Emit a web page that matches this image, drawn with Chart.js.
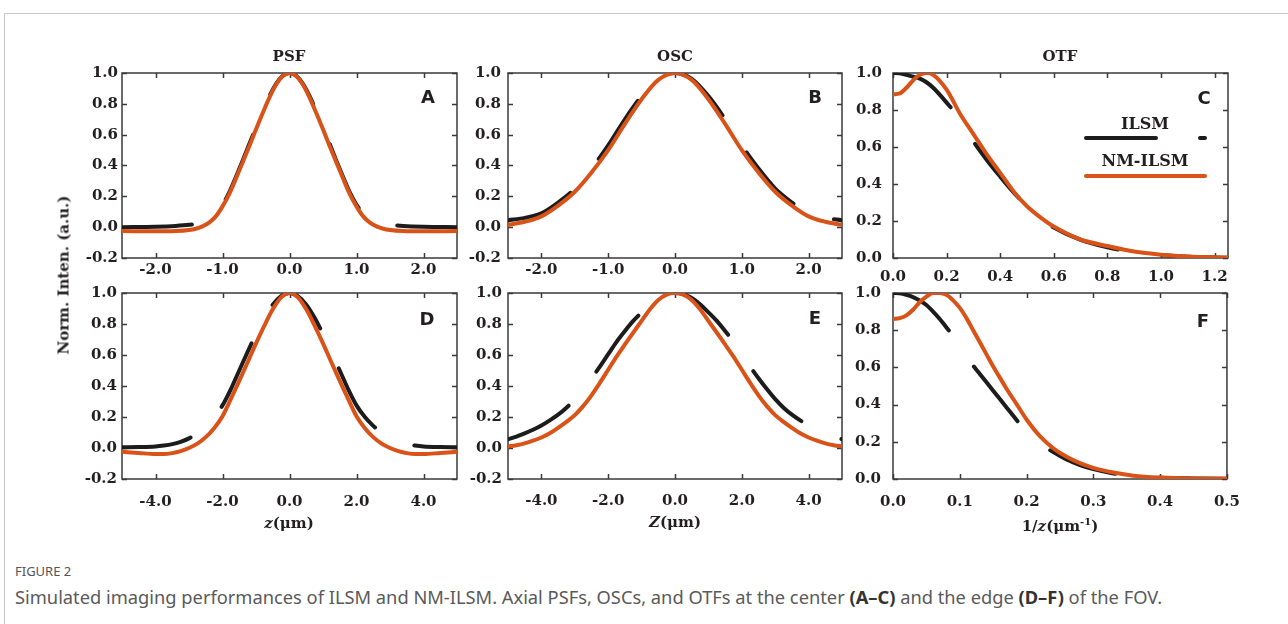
<!DOCTYPE html>
<html>
<head>
<meta charset="utf-8">
<script src="https://cdn.jsdelivr.net/npm/chart.js@4.4.1/dist/chart.umd.min.js"></script>
<style>
  body { margin: 0; background: #fff; width: 1288px; height: 624px; position: relative; overflow: hidden; }
  .card { position: absolute; left: 4px; top: 13px; width: 1300px; height: 640px; border-top: 1px solid #c8c8c8; border-left: 1px solid #c8c8c8; }
  .txt { position: absolute; transform: translate(-50%, -50%); white-space: nowrap; color: #231f20; line-height: 1; }
  .serif { font-family: "DejaVu Serif", serif; font-weight: bold; font-size: 15px; }
  .letter { font-family: "DejaVu Sans", sans-serif; font-weight: bold; font-size: 18px; }
  .legend { font-family: "DejaVu Serif", serif; font-weight: bold; font-size: 16px; }
  .cap-head { position: absolute; left: 15px; top: 565px; font-family: "Noto Sans", sans-serif; font-size: 13px; line-height: 1; color: #555; }
  .cap-text { position: absolute; left: 15px; top: 588px; font-family: "Noto Sans", sans-serif; font-size: 18.3px; line-height: 1; color: #5a5a5a; white-space: nowrap; }
  .cap-text b { color: #333; }
  canvas { position: absolute; }
</style>
</head>
<body>
<div class="card"></div>

<script>
'use strict';

// ---- data ----

// PSF, centre of FOV (A)
const psfCenterZ = [-2.5, -2.0, -1.7, -1.5, -1.4, -1.3, -1.2, -1.1, -1.0, -0.9, -0.8, -0.7, -0.6, -0.5, -0.4, -0.3, -0.2, -0.1, 0,
  0.1, 0.2, 0.3, 0.4, 0.5, 0.6, 0.7, 0.8, 0.9, 1.0, 1.1, 1.2, 1.3, 1.4, 1.5, 1.7, 2.0, 2.5];
const psfCenterIlsm = [0.0, 0.003, 0.008, 0.015, 0.022, 0.035, 0.06, 0.09, 0.145, 0.225, 0.325, 0.43, 0.54, 0.645, 0.75, 0.85, 0.93, 0.982, 1.0,
  0.982, 0.93, 0.85, 0.75, 0.645, 0.54, 0.43, 0.325, 0.225, 0.145, 0.09, 0.06, 0.035, 0.022, 0.015, 0.008, 0.003, 0.0];
const psfCenterNm = [-0.025, -0.027, -0.025, -0.018, -0.01, 0.005, 0.03, 0.07, 0.135, 0.215, 0.315, 0.42, 0.525, 0.635, 0.74, 0.84, 0.925, 0.98, 1.0,
  0.98, 0.925, 0.84, 0.74, 0.635, 0.525, 0.42, 0.315, 0.215, 0.135, 0.07, 0.03, 0.005, -0.01, -0.018, -0.025, -0.027, -0.025];

// OSC, centre (B)
const oscCenterZ = [-2.5, -2.25, -2.0, -1.75, -1.5, -1.25, -1.0, -0.75, -0.5, -0.25, 0,
  0.25, 0.5, 0.75, 1.0, 1.25, 1.5, 1.75, 2.0, 2.25, 2.5];
const oscCenterIlsm = [0.045, 0.06, 0.09, 0.16, 0.25, 0.38, 0.53, 0.70, 0.85, 0.962, 1.0,
  0.962, 0.85, 0.70, 0.53, 0.38, 0.25, 0.16, 0.09, 0.06, 0.045];
const oscCenterNm = [0.015, 0.035, 0.07, 0.14, 0.23, 0.355, 0.50, 0.67, 0.83, 0.955, 1.0,
  0.955, 0.83, 0.67, 0.50, 0.355, 0.23, 0.14, 0.07, 0.035, 0.015];

// OTF, centre (C)
const otfCenterF = [0, 0.025, 0.05, 0.075, 0.1, 0.125, 0.15, 0.2, 0.25, 0.3, 0.35, 0.4, 0.45, 0.5, 0.55, 0.6, 0.7, 0.8, 0.9, 1.0, 1.1, 1.25];
const otfCenterIlsm = [1.0, 0.998, 0.99, 0.98, 0.97, 0.95, 0.92, 0.84, 0.75, 0.63, 0.53, 0.44, 0.355, 0.28, 0.215, 0.165, 0.098, 0.058, 0.032, 0.016, 0.007, 0.002];
const otfCenterNm = [0.885, 0.89, 0.92, 0.96, 0.99, 1.0, 0.99, 0.91, 0.78, 0.67, 0.56, 0.46, 0.36, 0.28, 0.22, 0.17, 0.10, 0.065, 0.035, 0.018, 0.008, 0.003];

// PSF, edge of FOV (D)
const psfEdgeZ = [-5, -4.5, -4, -3.75, -3.5, -3.25, -3, -2.75, -2.5, -2.25, -2, -1.75, -1.5, -1.25, -1, -0.75, -0.5, -0.25, 0,
  0.25, 0.5, 0.75, 1, 1.25, 1.5, 1.75, 2, 2.25, 2.5, 2.75, 3, 3.25, 3.5, 3.75, 4, 4.5, 5];
const psfEdgeIlsm = [0.005, 0.006, 0.01, 0.016, 0.025, 0.04, 0.062, 0.097, 0.143, 0.20, 0.275, 0.38, 0.50, 0.62, 0.735, 0.84, 0.925, 0.98, 1.0,
  0.98, 0.925, 0.84, 0.735, 0.62, 0.50, 0.38, 0.275, 0.20, 0.143, 0.097, 0.062, 0.04, 0.025, 0.016, 0.01, 0.006, 0.005];
const psfEdgeNm = [-0.024, -0.032, -0.039, -0.039, -0.033, -0.02, 0.0, 0.028, 0.07, 0.128, 0.205, 0.317, 0.433, 0.553, 0.675, 0.79, 0.895, 0.972, 1.0,
  0.972, 0.895, 0.79, 0.675, 0.553, 0.433, 0.317, 0.205, 0.128, 0.07, 0.028, 0.0, -0.02, -0.033, -0.039, -0.039, -0.032, -0.024];

// OSC, edge (E)
const oscEdgeZ = [-5, -4.75, -4.5, -4.25, -4, -3.75, -3.5, -3.25, -3, -2.75, -2.5, -2.25, -2, -1.75, -1.5, -1.25, -1, -0.75, -0.5, -0.25, 0,
  0.25, 0.5, 0.75, 1, 1.25, 1.5, 1.75, 2, 2.25, 2.5, 2.75, 3, 3.25, 3.5, 3.75, 4, 4.25, 4.5, 4.75, 5];
const oscEdgeIlsm = [0.056, 0.074, 0.095, 0.118, 0.145, 0.178, 0.215, 0.26, 0.315, 0.38, 0.45, 0.525, 0.605, 0.685, 0.755, 0.82, 0.875, 0.928, 0.968, 0.992, 1.0,
  0.992, 0.968, 0.928, 0.875, 0.82, 0.755, 0.685, 0.605, 0.525, 0.45, 0.38, 0.315, 0.26, 0.215, 0.178, 0.145, 0.118, 0.095, 0.074, 0.056];
const oscEdgeNm = [0.01, 0.018, 0.03, 0.047, 0.068, 0.095, 0.13, 0.168, 0.212, 0.27, 0.34, 0.42, 0.505, 0.59, 0.668, 0.745, 0.82, 0.895, 0.955, 0.99, 1.0,
  0.99, 0.955, 0.895, 0.82, 0.745, 0.668, 0.59, 0.505, 0.42, 0.34, 0.27, 0.212, 0.168, 0.13, 0.095, 0.068, 0.047, 0.03, 0.018, 0.01];

// OTF, edge (F)
const otfEdgeF = [0, 0.01, 0.02, 0.03, 0.04, 0.05, 0.06, 0.07, 0.08, 0.09, 0.1, 0.11, 0.12, 0.13, 0.14, 0.15, 0.16, 0.17, 0.18, 0.19, 0.2,
  0.22, 0.24, 0.26, 0.28, 0.3, 0.33, 0.36, 0.4, 0.45, 0.5];
const otfEdgeIlsm = [1.0, 0.998, 0.99, 0.978, 0.96, 0.935, 0.9, 0.86, 0.815, 0.77, 0.72, 0.665, 0.61, 0.565, 0.52, 0.475, 0.43, 0.385, 0.34, 0.295, 0.255,
  0.19, 0.145, 0.105, 0.075, 0.053, 0.03, 0.016, 0.007, 0.003, 0.001];
const otfEdgeNm = [0.86, 0.865, 0.88, 0.91, 0.95, 0.98, 1.0, 1.0, 0.99, 0.96, 0.92, 0.865, 0.80, 0.735, 0.67, 0.605, 0.545, 0.485, 0.43, 0.375, 0.32,
  0.23, 0.165, 0.12, 0.085, 0.06, 0.035, 0.018, 0.008, 0.003, 0.002];

// tick labels
const yTicksSigned = [-0.2, 0.0, 0.2, 0.4, 0.6, 0.8, 1.0];
const yTicksPositive = [0.0, 0.2, 0.4, 0.6, 0.8, 1.0];
const zTicksCenter = [-2.0, -1.0, 0.0, 1.0, 2.0];
const zTicksEdge = [-4.0, -2.0, 0.0, 2.0, 4.0];
const fTicksCenter = [0.0, 0.2, 0.4, 0.6, 0.8, 1.0, 1.2];
const fTicksEdge = [0.0, 0.1, 0.2, 0.3, 0.4, 0.5];

const seriesNames = ['ILSM', 'NM-ILSM'];
const panelTitles = ['PSF', 'OSC', 'OTF'];

// ---- styling ----
const ilsmColor = '#1c1c1c';
const nmColor = '#d95319';
const tickFont = { family: 'DejaVu Serif', size: 15, weight: 'bold' };

function toPoints(xs, ys) {
  return xs.map((x, i) => ({ x: x, y: ys[i] }));
}

// box frame with inward ticks on all four sides
const boxFrame = {
  id: 'boxFrame',
  beforeDatasetsDraw(chart) {
    const { ctx, chartArea: a } = chart;
    const xs = chart.scales.x;
    const ys = chart.scales.y;
    ctx.save();
    ctx.strokeStyle = '#3a3a3a';
    ctx.lineWidth = 1.5;
    ctx.strokeRect(a.left, a.top, a.right - a.left, a.bottom - a.top);
    ctx.beginPath();
    xs.ticks.forEach(t => {
      const px = Math.round(xs.getPixelForValue(t.value)) + 0.5;
      ctx.moveTo(px, a.bottom); ctx.lineTo(px, a.bottom - 5);
      ctx.moveTo(px, a.top); ctx.lineTo(px, a.top + 5);
    });
    ys.ticks.forEach(t => {
      const py = Math.round(ys.getPixelForValue(t.value)) + 0.5;
      ctx.moveTo(a.left, py); ctx.lineTo(a.left + 5, py);
      ctx.moveTo(a.right, py); ctx.lineTo(a.right - 5, py);
    });
    ctx.stroke();
    ctx.restore();
  }
};

// legend line samples in panel C
const legendLines = {
  id: 'legendLines',
  afterDatasetsDraw(chart, args, opts) {
    if (!opts.show) return;
    const { ctx, chartArea: a } = chart;
    ctx.save();
    ctx.lineWidth = 4;
    ctx.lineCap = 'round';
    ctx.strokeStyle = ilsmColor;
    ctx.setLineDash([70, 44]);
    ctx.beginPath();
    ctx.moveTo(a.left + 193, a.top + 65);
    ctx.lineTo(a.left + 312, a.top + 65);
    ctx.stroke();
    ctx.setLineDash([]);
    ctx.strokeStyle = nmColor;
    ctx.beginPath();
    ctx.moveTo(a.left + 193, a.top + 103);
    ctx.lineTo(a.left + 312, a.top + 103);
    ctx.stroke();
    ctx.restore();
  }
};

const panels = [
  { left: 122, top: 73, w: 335, h: 185, xs: psfCenterZ, ilsm: psfCenterIlsm, nm: psfCenterNm,
    xMin: -2.5, xMax: 2.5, xTicks: zTicksCenter, yMin: -0.2, yTicks: yTicksSigned, xPad: 3, yPad: 4 },
  { left: 508, top: 73, w: 334, h: 185, xs: oscCenterZ, ilsm: oscCenterIlsm, nm: oscCenterNm,
    xMin: -2.5, xMax: 2.5, xTicks: zTicksCenter, yMin: -0.2, yTicks: yTicksSigned, xPad: 3, yPad: 7 },
  { left: 893, top: 73, w: 335, h: 185, xs: otfCenterF, ilsm: otfCenterIlsm, nm: otfCenterNm,
    xMin: 0, xMax: 1.25, xTicks: fTicksCenter, yMin: 0, yTicks: yTicksPositive, xPad: 10, yPad: 11, legend: true },
  { left: 122, top: 293, w: 335, h: 186, xs: psfEdgeZ, ilsm: psfEdgeIlsm, nm: psfEdgeNm,
    xMin: -5, xMax: 5, xTicks: zTicksEdge, yMin: -0.2, yTicks: yTicksSigned, xPad: 14, yPad: 5 },
  { left: 508, top: 293, w: 334, h: 186, xs: oscEdgeZ, ilsm: oscEdgeIlsm, nm: oscEdgeNm,
    xMin: -5, xMax: 5, xTicks: zTicksEdge, yMin: -0.2, yTicks: yTicksSigned, xPad: 13, yPad: 6 },
  { left: 893, top: 293, w: 335, h: 186, xs: otfEdgeF, ilsm: otfEdgeIlsm, nm: otfEdgeNm,
    xMin: 0, xMax: 0.5, xTicks: fTicksEdge, yMin: 0, yTicks: yTicksPositive, xPad: 14, yPad: 12 }
];

const AXIS_W = 60;
const AXIS_H = 40;
const PAD_TOP = 30;
const PAD_RIGHT = 26;

panels.forEach(p => {
  const canvas = document.createElement('canvas');
  canvas.width = p.w + AXIS_W + PAD_RIGHT;
  canvas.height = p.h + AXIS_H + PAD_TOP;
  canvas.style.left = (p.left - AXIS_W) + 'px';
  canvas.style.top = (p.top - PAD_TOP) + 'px';
  document.body.appendChild(canvas);

  new Chart(canvas, {
    type: 'line',
    data: {
      datasets: [
        { label: seriesNames[1], data: toPoints(p.xs, p.nm), borderColor: nmColor, borderWidth: 4,
          borderCapStyle: 'round', pointRadius: 0, cubicInterpolationMode: 'monotone', order: 1 },
        { label: seriesNames[0], data: toPoints(p.xs, p.ilsm), borderColor: ilsmColor, borderWidth: 4,
          borderDash: [70, 44], borderCapStyle: 'round', pointRadius: 0, cubicInterpolationMode: 'monotone', order: 2 }
      ]
    },
    options: {
      responsive: false,
      animation: false,
      devicePixelRatio: 1,
      layout: { padding: { top: PAD_TOP, right: PAD_RIGHT, left: 0, bottom: 0 } },
      plugins: { legend: { display: false }, tooltip: { enabled: false }, legendLines: { show: !!p.legend } },
      scales: {
        x: {
          type: 'linear', min: p.xMin, max: p.xMax,
          grid: { display: false, drawTicks: false }, border: { display: false },
          afterBuildTicks: s => { s.ticks = p.xTicks.map(v => ({ value: v })); },
          afterFit: s => { s.height = AXIS_H; },
          ticks: { autoSkip: false, maxRotation: 0, padding: p.xPad, color: '#231f20', font: tickFont,
                   callback: v => v.toFixed(1) }
        },
        y: {
          type: 'linear', min: p.yMin, max: 1.0,
          grid: { display: false, drawTicks: false }, border: { display: false },
          afterBuildTicks: s => { s.ticks = p.yTicks.map(v => ({ value: v })); },
          afterFit: s => { s.width = AXIS_W; },
          ticks: { autoSkip: false, padding: p.yPad, color: '#231f20', font: tickFont,
                   callback: v => v.toFixed(1) }
        }
      }
    },
    plugins: [boxFrame, legendLines]
  });
});

// ---- text ----
function addText(html, cx, cy, cls, extra) {
  const d = document.createElement('div');
  d.className = 'txt ' + cls;
  d.innerHTML = html;
  d.style.left = cx + 'px';
  d.style.top = cy + 'px';
  if (extra) d.style.transform = extra;
  document.body.appendChild(d);
}

addText(panelTitles[0], 289, 56, 'serif');
addText(panelTitles[1], 675, 56, 'serif');
addText(panelTitles[2], 1060, 56, 'serif');

addText('A', 428, 97, 'letter');
addText('B', 815, 97, 'letter');
addText('C', 1204, 98, 'letter');
addText('D', 427, 319, 'letter');
addText('E', 815, 318, 'letter');
addText('F', 1203, 321, 'letter');

addText(seriesNames[0], 1145, 124, 'legend');
addText(seriesNames[1], 1145, 161, 'legend');

addText('Norm. Inten. (a.u.)', 64, 275, 'serif', 'translate(-50%, -50%) rotate(-90deg)');
addText('<i>z</i>(μm)', 289, 523, 'serif');
addText('<i>Z</i>(μm)', 675, 522, 'serif');
addText('1/<i>z</i>(μm<sup style="font-size:10px;vertical-align:6px">-1</sup>)', 1060, 525, 'serif');
</script>

<div class="cap-head">FIGURE 2</div>
<div class="cap-text">Simulated imaging performances of ILSM and NM-ILSM. Axial PSFs, OSCs, and OTFs at the center <b>(A–C)</b> and the edge <b>(D–F)</b> of the FOV.</div>
</body>
</html>
